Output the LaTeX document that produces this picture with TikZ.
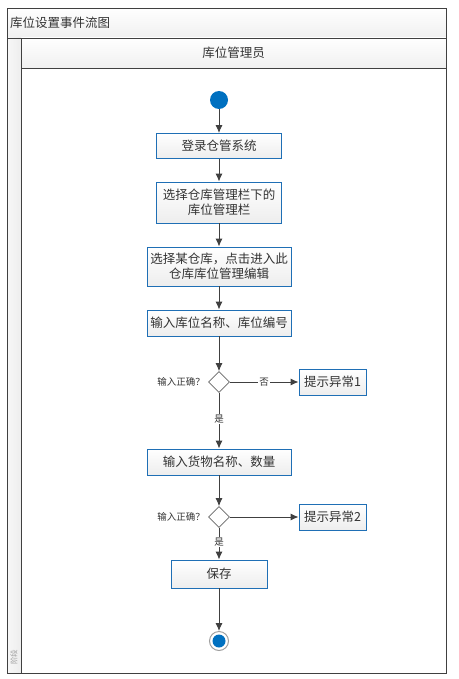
\documentclass[tikz,border=0pt]{standalone}
\usepackage{fontspec}
\setmainfont{Noto Sans CJK SC}
\usetikzlibrary{arrows.meta,shapes.geometric}
\definecolor{bordc}{HTML}{404040}
\definecolor{boxc}{HTML}{1F6FB5}
\definecolor{dotc}{HTML}{0070C0}
\definecolor{txtc}{HTML}{333333}
\begin{document}
\begin{tikzpicture}[x=1pt,y=-1pt,
  stepbox/.style={draw=boxc,line width=0.9pt,top color=white,bottom color=gray!14,text=txtc,
    font=\fontsize{12.5}{15}\selectfont,align=center,inner sep=0pt},
  dec/.style={diamond,draw=bordc!80,line width=0.6pt,fill=white,minimum width=21pt,minimum height=21pt,inner sep=0pt},
  lbl/.style={text=txtc,font=\fontsize{9.5}{11}\selectfont,inner sep=1pt},
  flow/.style={draw=bordc,line width=0.9pt,-{Latex[length=8pt,width=7pt]}},
  frame/.style={draw=bordc,line width=0.9pt}
]
\useasboundingbox (0,0) rectangle (458,679);
% frame
\shade[top color=white,bottom color=gray!12] (7,8) rectangle (446,38);
\shade[top color=white,bottom color=gray!12] (21,38) rectangle (446,68);
\shade[left color=gray!6,right color=gray!14] (7,38) rectangle (21,673);
\draw[frame] (7,8) rectangle (446,673);
\draw[frame] (7,38) -- (446,38);
\draw[frame] (21,68) -- (446,68);
\draw[frame] (21,38) -- (21,673);
\node[anchor=west,text=txtc,font=\fontsize{12.5}{14}\selectfont,inner sep=0pt] (title) at (10,23) {库位设置事件流图};
\node[text=txtc,font=\fontsize{12.5}{14}\selectfont,inner sep=0pt] (lane) at (233.5,53) {库位管理员};
\node[rotate=90,text=gray!75,font=\fontsize{7.5}{8}\selectfont,inner sep=0pt] (phase) at (14,657) {阶段};
% nodes
\node[circle,fill=dotc,minimum size=18pt,inner sep=0pt] (start) at (219,100) {};
\node[stepbox,minimum width=125pt,minimum height=25pt] (b1) at (219,146) {登录仓管系统};
\node[stepbox,minimum width=125pt,minimum height=41pt] (b2) at (219,202.5) {选择仓库管理栏下的\\库位管理栏};
\node[stepbox,minimum width=144pt,minimum height=39pt] (b3) at (219,266.5) {选择某仓库，点击进入此\\仓库库位管理编辑};
\node[stepbox,minimum width=144pt,minimum height=26pt] (b4) at (219,323) {输入库位名称、库位编号};
\node[dec] (d1) at (219,382) {};
\node[lbl,anchor=east] (q1) at (206,382) {输入正确？};
\node[stepbox,minimum width=67pt,minimum height=26pt] (e1) at (332.5,382) {提示异常1};
\node[stepbox,minimum width=144pt,minimum height=26pt] (b5) at (219,462) {输入货物名称、数量};
\node[dec] (d2) at (219,517) {};
\node[lbl,anchor=east] (q2) at (206,517) {输入正确？};
\node[stepbox,minimum width=67pt,minimum height=26pt] (e2) at (332.5,517) {提示异常2};
\node[stepbox,minimum width=96pt,minimum height=28pt] (save) at (219,574) {保存};
\node[circle,draw=gray!75,line width=1pt,fill=white,minimum size=19pt,inner sep=0pt] (endo) at (219,641) {};
\node[circle,fill=dotc,minimum size=13pt,inner sep=0pt] (endi) at (219,641) {};
% edges
\draw[flow] (start) -- (b1);
\draw[flow] (b1) -- (b2);
\draw[flow] (b2) -- (b3);
\draw[flow] (b3) -- (b4);
\draw[flow] (b4) -- (d1);
\draw[flow] (d1) -- node[lbl,fill=white,pos=0.5] {否} (e1);
\draw[flow] (d1) -- node[lbl,fill=white,pos=0.47] {是} (b5);
\draw[flow] (b5) -- (d2);
\draw[flow] (d2) -- (e2);
\draw[flow] (d2) -- node[lbl,fill=white,pos=0.45] {是} (save);
\draw[flow] (save) -- (endo);
\end{tikzpicture}
\end{document}
